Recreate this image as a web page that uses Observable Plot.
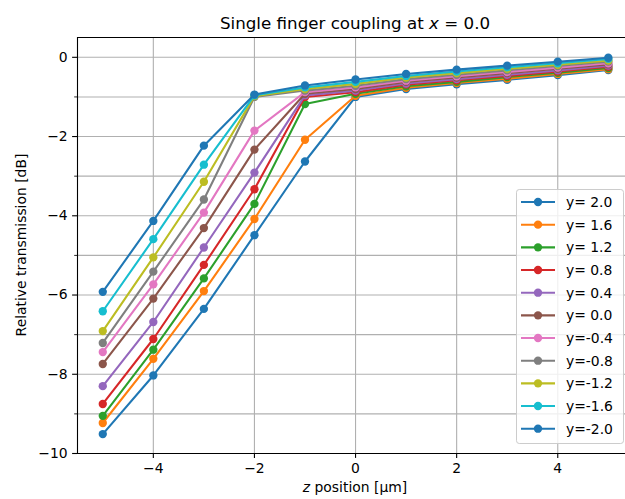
<!DOCTYPE html>
<html><head><meta charset="utf-8">
<script src="https://cdn.jsdelivr.net/npm/d3@7"></script>
<script src="https://cdn.jsdelivr.net/npm/@observablehq/plot@0.6"></script>
<style>
body{margin:0;background:#fff;}
#wrap{position:relative;width:625px;height:499px;overflow:hidden;background:#fff;}
#wrap svg{position:absolute;left:0;top:0;}
</style></head><body><div id="wrap"></div>
<script>
// ---- data ----
const zPositions = [-5, -4, -3, -2, -1, 0, 1, 2, 3, 4, 5];
const seriesLabels = ["y= 2.0","y= 1.6","y= 1.2","y= 0.8","y= 0.4","y= 0.0","y=-0.4","y=-0.8","y=-1.2","y=-1.6","y=-2.0"];
const seriesColors = ["#1f77b4","#ff7f0e","#2ca02c","#d62728","#9467bd","#8c564b","#e377c2","#7f7f7f","#bcbd22","#17becf","#1f77b4"];
const s_p20 = [-9.51, -8.03, -6.35, -4.49, -2.63, -1.00, -0.80, -0.68, -0.57, -0.45, -0.32];
const s_p16 = [-9.23, -7.61, -5.90, -4.08, -2.08, -0.97, -0.77, -0.65, -0.54, -0.42, -0.30];
const s_p12 = [-9.05, -7.38, -5.58, -3.70, -1.18, -0.92, -0.73, -0.62, -0.50, -0.39, -0.27];
const s_p08 = [-8.75, -7.11, -5.24, -3.33, -1.00, -0.88, -0.69, -0.58, -0.47, -0.36, -0.24];
const s_p04 = [-8.30, -6.68, -4.80, -2.91, -0.96, -0.84, -0.66, -0.55, -0.44, -0.33, -0.21];
const s_p00 = [-7.74, -6.09, -4.31, -2.33, -0.92, -0.80, -0.62, -0.51, -0.40, -0.29, -0.18];
const s_m04 = [-7.44, -5.73, -3.92, -1.85, -0.88, -0.76, -0.59, -0.48, -0.37, -0.26, -0.15];
const s_m08 = [-7.21, -5.41, -3.59, -1.00, -0.84, -0.72, -0.55, -0.44, -0.33, -0.22, -0.11];
const s_m12 = [-6.91, -5.05, -3.14, -0.98, -0.80, -0.67, -0.51, -0.40, -0.29, -0.19, -0.08];
const s_m16 = [-6.41, -4.59, -2.71, -0.96, -0.76, -0.62, -0.47, -0.36, -0.25, -0.15, -0.04];
const s_m20 = [-5.92, -4.13, -2.23, -0.94, -0.71, -0.56, -0.42, -0.31, -0.21, -0.11, -0.01];
const seriesValues = [s_p20, s_p16, s_p12, s_p08, s_p04, s_p00, s_m04, s_m08, s_m12, s_m16, s_m20];
const xTicks = [-4, -2, 0, 2, 4];
const yTicksMajor = [-10, -8, -6, -4, -2, 0];
const yTicksMinor = [-9, -7, -5, -3, -1];
const xDomain = [-5.5, 5.34];
const yDomain = [-10, 0.5];
const titleText = "Single finger coupling at ";
const titleVar = "x";
const titleRest = " = 0.0";
const xLabelVar = "z";
const xLabelRest = " position [µm]";
const yLabelText = "Relative transmission [dB]";

// ---- chart ----
const W = 625, H = 499;
const mL = 77, mR = 0, mT = 37, mB = 46;
const font = "DejaVu Sans";
const fs = 13.9;
const gridStyle = {stroke: "#b0b0b0", strokeOpacity: 1, strokeWidth: 1.1};

const seriesMarks = [];
seriesValues.forEach((vals, i) => {
  const rows = zPositions.map((z, j) => ({z, v: vals[j]}));
  seriesMarks.push(Plot.line(rows, {x: "z", y: "v", stroke: seriesColors[i], strokeWidth: 2.08}));
  seriesMarks.push(Plot.dot(rows, {x: "z", y: "v", fill: seriesColors[i], stroke: "none", r: 4.17}));
});

const fmt = d3.format("");
const chart = Plot.plot({
  width: W, height: H,
  marginLeft: mL, marginRight: mR, marginTop: mT, marginBottom: mB,
  x: {domain: xDomain},
  y: {domain: yDomain},
  style: {fontFamily: font, fontSize: fs + "px", background: "transparent", overflow: "hidden", color: "black"},
  marks: [
    Plot.gridY([...yTicksMajor, ...yTicksMinor], gridStyle),
    Plot.gridX(xTicks, gridStyle),
    ...seriesMarks,
    Plot.ruleX([xDomain[0]], {stroke: "black", strokeWidth: 1.1}),
    Plot.ruleY([yDomain[0]], {stroke: "black", strokeWidth: 1.1}),
    Plot.ruleY([yDomain[1]], {stroke: "black", strokeWidth: 1.1}),
    Plot.axisX(xTicks, {tickSize: 4.9, tickPadding: 4.9, label: null, tickFormat: fmt, strokeWidth: 1.1, fontSize: fs, fill: "black"}),
    Plot.axisY(yTicksMajor, {tickSize: 4.9, tickPadding: 4.9, label: null, tickFormat: fmt, strokeWidth: 1.1, fontSize: fs, fill: "black"}),
    Plot.axisY(yTicksMinor, {tickSize: 2.8, label: null, tickFormat: () => "", strokeWidth: 0.85})
  ]
});
const wrap = document.getElementById("wrap");
wrap.appendChild(chart);

// ---- overlay: title, axis labels, legend ----
const ov = d3.select(wrap).append("svg")
  .attr("width", W).attr("height", H)
  .style("font-family", font).style("pointer-events", "none");

const axesCenterX = 355;
const t = ov.append("text").attr("x", axesCenterX).attr("y", 28.7)
  .attr("text-anchor", "middle").attr("font-size", 16.7).attr("fill", "black");
t.append("tspan").text(titleText);
t.append("tspan").attr("font-style", "italic").text(titleVar);
t.append("tspan").text(titleRest);

const xl = ov.append("text").attr("x", axesCenterX).attr("y", 492)
  .attr("text-anchor", "middle").attr("font-size", fs).attr("fill", "black");
xl.append("tspan").attr("font-style", "italic").text(xLabelVar);
xl.append("tspan").text(xLabelRest);

ov.append("text").attr("transform", "translate(26,245) rotate(-90)")
  .attr("text-anchor", "middle").attr("font-size", fs).attr("fill", "black")
  .text(yLabelText);

// legend
const lgX = 516, lgY = 189, lgW = 107, lgH = 254;
ov.append("rect").attr("x", lgX + 0.5).attr("y", lgY + 0.5).attr("width", lgW).attr("height", lgH)
  .attr("rx", 2.8).attr("fill", "white").attr("fill-opacity", 0.8).attr("stroke", "#cccccc").attr("stroke-width", 1);
const row0 = 202, pitch = 22.67;
seriesLabels.forEach((lab, i) => {
  const yy = row0 + i * pitch;
  ov.append("line").attr("x1", 521).attr("x2", 555).attr("y1", yy).attr("y2", yy)
    .attr("stroke", seriesColors[i]).attr("stroke-width", 2.08);
  ov.append("circle").attr("cx", 538).attr("cy", yy).attr("r", 4.17).attr("fill", seriesColors[i]);
  ov.append("text").attr("x", 566).attr("y", yy + 5).attr("font-size", fs).attr("fill", "black").text(lab);
});
</script></body></html>
